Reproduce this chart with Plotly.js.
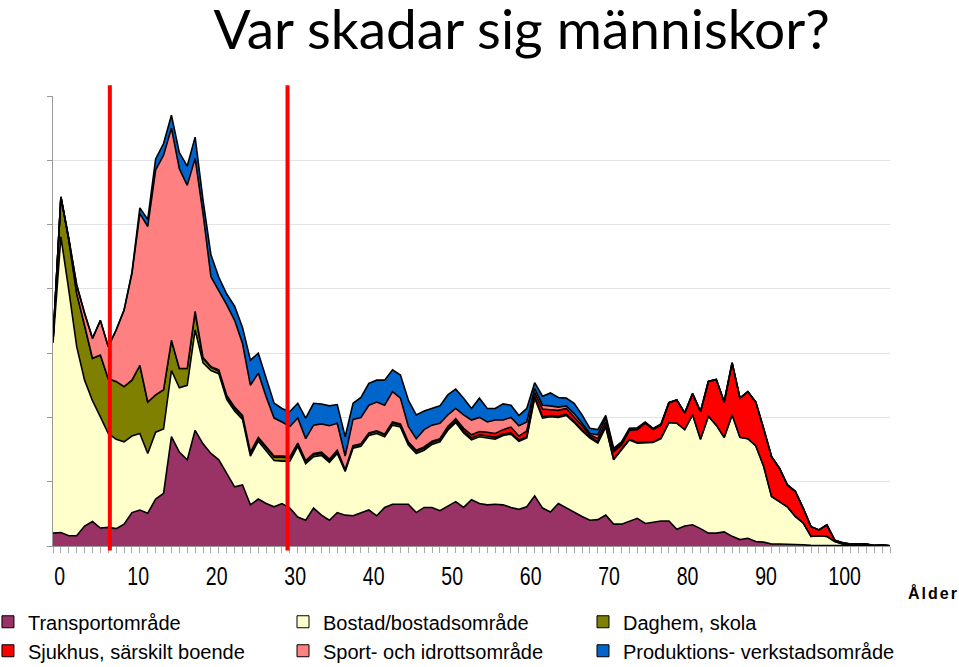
<!DOCTYPE html>
<html>
<head>
<meta charset="utf-8">
<script src="https://cdn.plot.ly/plotly-3.0.1.min.js"></script>
<style>html,body{margin:0;padding:0;background:#fff;}#chart{width:959px;height:667px;}</style>
</head>
<body>
<div id="chart"></div>
<script>
const ages = [0,1,2,3,4,5,6,7,8,9,10,11,12,13,14,15,16,17,18,19,20,21,22,23,24,25,26,27,28,29,30,31,32,33,34,35,36,37,38,39,40,41,42,43,44,45,46,47,48,49,50,51,52,53,54,55,56,57,58,59,60,61,62,63,64,65,66,67,68,69,70,71,72,73,74,75,76,77,78,79,80,81,82,83,84,85,86,87,88,89,90,91,92,93,94,95,96,97,98,99,100,101,102,103,104,105,106];

const transport = [20,21,16,16,31,38,28,29,27,34, 52,56,51,73,82,170,146,134,180,159, 144,134,113,92,95,64,73,66,61,66, 59,45,40,59,48,40,52,48,47,52, 56,47,60,65,65,65,52,60,60,55, 62,69,60,72,66,64,65,64,60,57, 61,78,59,53,66,59,53,46,40,41, 48,34,34,39,43,35,37,39,39,26, 31,33,27,20,20,22,15,10,12,7, 6,3,3,3,2,2,1,1,1,1, 0.5,0.5,0.5,0.5,0.3,0.3,0.2];
const bostad = [296,460,382,294,227,188,173,146,139,128, 119,119,93,104,100,103,100,116,156,126, 129,134,115,118,102,76,90,82,72,66, 73,110,88,80,93,90,92,68,105,103, 116,128,110,123,120,92,92,89,98,107, 118,123,116,93,104,104,101,108,114,106, 107,152,140,148,134,144,139,133,128,119, 137,100,116,126,117,126,124,128,153,165, 150,171,139,182,168,147,189,159,155,149, 118,74,66,58,44,34,14,15,14,6, 2.5,1.5,1,1,0.3,0.7,0];
const daghem = [3,62,78,83,85,66,96,85,90,86, 87,106,80,58,61,47,30,26,28,7, 5,4,4,4,4,4,4,4,5,6, 5,3,3,3,3,3,3,2,3,3, 3,3,3,3,3,3,3,3,3,3, 3,3,3,3,3,3,3,2,2,2, 2,3,2,2,2,2,2,2,2,2, 2,1,1,1,1,1,1,1,0,0, 0,0,0,0,0,0,0,0,0,0, 0,0,0,0,0,0,0,0,0,0, 0,0,0,0,0,0,0];
const sjukhus = [0,0,0,0,0,0,0,0,0,0, 0,0,0,0,0,0,0,0,1,1, 1,2,2,2,2,2,2,2,2,2, 2,2,2,2,2,2,2,1,1,1, 1,1,1,2,2,2,2,2,2,2, 3,3,4,5,5,6,6,7,9,6, 9,6,12,9,9,9,7,6,3,5, 6,12,6,14,20,29,19,20,31,36, 26,33,43,54,71,55,81,61,73,68, 59,62,52,34,39,23,15,9,18,2, 2,1,1.5,1.5,0.2,0.5,0];
const sport = [0,0,2,13,19,31,54,50,80,119, 166,236,273,350,365,330,311,285,238,224, 140,124,141,135,112,104,100,78,59,53, 47,39,34,44,44,52,42,21,41,41, 43,45,45,47,40,24,18,27,25,24, 18,16,21,23,22,16,21,15,15,16, 14,6,6,6,5,4,5,4,2,6, 6,2,2,1,1,1,1,1,0,0, 0,0,0,0,0,0,0,0,0,0, 0,0,0,0,0,0,0,0,0,0, 0,0,0,0,0,0,0];
const produktion = [0,0,0,0,0,0,0,0,0,0, 2,9,11,17,18,20,25,30,33,21, 34,20,17,22,25,39,31,29,23,21, 23,23,32,34,31,31,29,30,25,31, 34,34,39,34,36,41,37,29,26,27, 31,30,26,18,30,21,18,25,19,16, 21,9,14,20,15,12,16,13,8,8, 4,3,3,2,2,1,1,1,0,0, 0,0,0,0,0,0,0,0,0,0, 0,0,0,0,0,0,0,0,0,0, 0,0,0,0,0,0,0];

const seriesNames = ['Transportområde','Bostad/bostadsområde','Daghem, skola','Sjukhus, särskilt boende','Sport- och idrottsområde','Produktions- verkstadsområde'];
const seriesData = [transport, bostad, daghem, sjukhus, sport, produktion];
const seriesColors = ['#993366','#FFFFCC','#808000','#FF0000','#FF8080','#0066CC'];
const legendIds = ['legend','legend2','legend3','legend','legend2','legend3'];

const tickLabels = ['0','10','20','30','40','50','60','70','80','90','100'];
const tickAges = [0,10,20,30,40,50,60,70,80,90,100];
const markerAges = [7.2, 29.7];

const traces = [];
seriesData.forEach((ys, k) => {
  traces.push({
    type: 'scatter', mode: 'lines', x: ages, y: ys, stackgroup: 'one',
    name: seriesNames[k], showlegend: false,
    line: {color: '#000000', width: 1.6, shape: 'linear'},
    fillcolor: seriesColors[k], hoverinfo: 'skip'
  });
});
// legend entries only (no data points)
seriesData.forEach((ys, k) => {
  traces.push({
    type: 'scatter', mode: 'markers', x: [null], y: [null],
    name: seriesNames[k], legend: legendIds[k], showlegend: true,
    marker: {symbol: 'square', size: 12, color: seriesColors[k], line: {color: '#000', width: 1}}
  });
});

const txtFont = 'Liberation Sans, Arial, sans-serif';
const legendBase = {
  orientation: 'v', traceorder: 'normal',
  yanchor: 'top', xanchor: 'left', y: -0.125,
  bgcolor: 'rgba(0,0,0,0)', borderwidth: 0, tracegroupgap: 0,
  font: {family: txtFont, size: 20, color: '#000'}
};

const layout = {
  width: 959, height: 667,
  margin: {l: 53, r: 69, t: 96, b: 121, autoexpand: false},
  paper_bgcolor: '#fff', plot_bgcolor: '#fff',
  title: {text: 'Var skadar sig människor?', font: {family: 'Lato, Carlito, sans-serif', size: 55, color: '#000'},
          x: 0.544, xanchor: 'center', xref: 'container', y: 0.955, yanchor: 'middle', yref: 'container'},
  xaxis: {
    range: [0, 106], showgrid: false, zeroline: false,
    showline: true, linecolor: '#999', linewidth: 1,
    tickmode: 'array', tickvals: tickAges.map(a => a * 0.994 + 0.85), ticktext: tickLabels,
    ticks: '', ticklabelstandoff: 8,
    tickfont: {family: txtFont, size: 25, color: '#000'},
    minor: {dtick: 1, tick0: 0, ticks: 'outside', ticklen: 6, tickcolor: '#aaa', tickwidth: 1, showgrid: false}
  },
  yaxis: {
    range: [0, 700], dtick: 100, showgrid: true, gridcolor: '#e3e3e3', gridwidth: 1,
    zeroline: false, showline: true, linecolor: '#999', linewidth: 1,
    ticks: 'outside', ticklen: 5, tickcolor: '#999', showticklabels: false
  },
  legend: Object.assign({}, legendBase, {x: -0.0777}),
  legend2: Object.assign({}, legendBase, {x: 0.2748}),
  legend3: Object.assign({}, legendBase, {x: 0.6332}),
  shapes: markerAges.map(a => ({type: 'line', xref: 'x', yref: 'paper', x0: a, x1: a, y0: -0.01, y1: 1.024,
    line: {color: '#FF0000', width: 4}, layer: 'above'})),
  annotations: [{text: '<b>Ålder</b>', xref: 'paper', yref: 'paper', x: 1.0245, y: -0.1044,
    xanchor: 'left', yanchor: 'middle', showarrow: false,
    font: {family: txtFont, size: 16, color: '#000'}}]
};

function squeeze(sel, sx) {
  document.querySelectorAll(sel).forEach(t => {
    if (t.dataset.sq) return;
    t.dataset.sq = '1';
    const x = parseFloat(t.getAttribute('x')) || 0;
    const tr = t.getAttribute('transform') || '';
    t.setAttribute('transform', tr + ' translate(' + x + ',0) scale(' + sx + ',1) translate(' + (-x) + ',0)');
  });
}
function finish() {
  squeeze('#chart .xtick text', 0.78);
  document.querySelectorAll('#chart .annotation-text').forEach(t => { t.style.letterSpacing = '2px'; });
}

Plotly.newPlot('chart', traces, layout, {displayModeBar: false, staticPlot: true}).then(() => {
  finish();
  setTimeout(finish, 50);
});
</script>
</body>
</html>
